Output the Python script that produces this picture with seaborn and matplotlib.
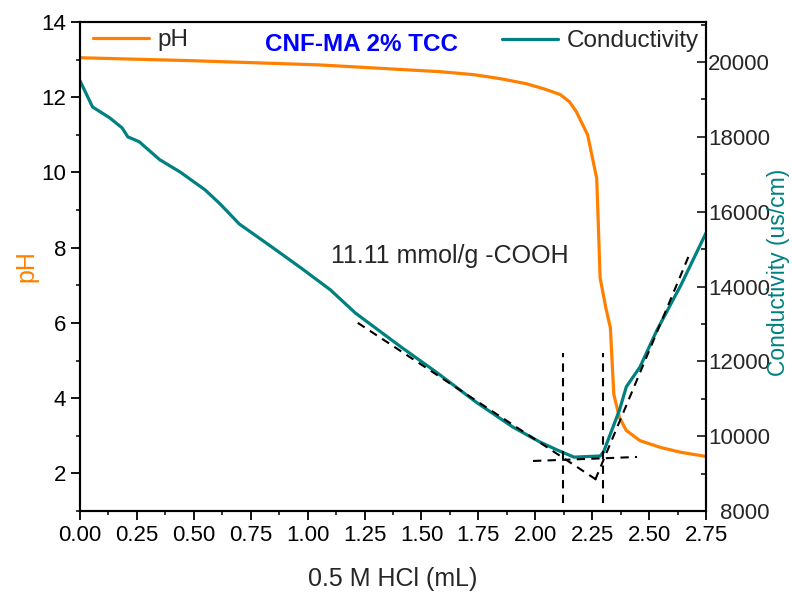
import matplotlib
matplotlib.use("Agg")
import matplotlib.pyplot as plt
from matplotlib.ticker import MultipleLocator, FormatStrFormatter
import numpy as np
import pandas as pd
import seaborn as sns

# Titration volume (mL of 0.5 M HCl) and pH reading
hcl_ph = [0.00, 0.50, 1.05, 1.58, 1.73, 1.85, 1.96, 2.04, 2.11, 2.15, 2.18, 2.21,
          2.23, 2.27, 2.285, 2.31, 2.33, 2.345, 2.37, 2.40, 2.46, 2.55, 2.64, 2.75]
ph = [13.05, 12.97, 12.86, 12.68, 12.60, 12.49, 12.36, 12.22, 12.07, 11.88, 11.62, 11.25,
      11.00, 9.84, 7.19, 6.40, 5.87, 4.10, 3.48, 3.14, 2.87, 2.69, 2.56, 2.45]

# Titration volume and conductivity (us/cm)
hcl_cond = [0.00, 0.055, 0.13, 0.185, 0.21, 0.26, 0.35, 0.44, 0.55, 0.615, 0.70,
            0.835, 0.97, 1.10, 1.21, 1.41, 1.57, 1.74, 1.90, 2.02, 2.10, 2.17,
            2.285, 2.30, 2.37, 2.40, 2.46, 2.535, 2.64, 2.75]
cond = [19500, 18800, 18510, 18240, 18000, 17870, 17390, 17060, 16580, 16210, 15670,
        15090, 14500, 13910, 13290, 12385, 11690, 10910, 10250, 9845, 9620, 9440,
        9470, 9580, 10700, 11320, 11850, 12840, 14040, 15430]

# Linear fits of the three conductivity regions
fit_acid_x = [1.22, 2.27]
fit_acid_y = [13030, 8830]
fit_flat_x = [1.99, 2.447]
fit_flat_y = [9337, 9444]
fit_excess_x = [2.263, 2.68]
fit_excess_y = [8830, 14900]

# Equivalence volumes
equiv_x = [2.122, 2.298]
equiv_y = [8210, 12220]

ORANGE = "#FF8000"
TEAL = "#008080"
BLUE = "#0000FF"

sns.set_style("ticks")
plt.rcParams["font.family"] = ["Liberation Sans", "DejaVu Sans"]

fig = plt.figure(figsize=(7.92, 5.94), dpi=100)
ax = fig.add_axes([80 / 792, 83 / 594, 626 / 792, 489 / 594])
ax2 = ax.twinx()

df_ph = pd.DataFrame({"HCl": hcl_ph, "pH": ph})
df_cond = pd.DataFrame({"HCl": hcl_cond, "Conductivity": cond})

sns.lineplot(data=df_ph, x="HCl", y="pH", ax=ax, color=ORANGE, lw=2.3,
             estimator=None, sort=False)
sns.lineplot(data=df_cond, x="HCl", y="Conductivity", ax=ax2, color=TEAL, lw=2.3,
             estimator=None, sort=False)

dash_kw = dict(color="black", lw=1.5, dashes=(4, 3))
ax2.plot(fit_acid_x, fit_acid_y, **dash_kw)
ax2.plot(fit_flat_x, fit_flat_y, **dash_kw)
ax2.plot(fit_excess_x, fit_excess_y, **dash_kw)
for xv in equiv_x:
    ax2.plot([xv, xv], equiv_y, **dash_kw)

ax.set_xlim(0, 2.75)
ax.set_ylim(1, 14)
ax2.set_ylim(8000, 21070)

ax.xaxis.set_major_locator(MultipleLocator(0.25))
ax.xaxis.set_minor_locator(MultipleLocator(0.125))
ax.xaxis.set_major_formatter(FormatStrFormatter("%.2f"))
ax.yaxis.set_major_locator(MultipleLocator(2))
ax.yaxis.set_minor_locator(MultipleLocator(1))
ax2.yaxis.set_major_locator(MultipleLocator(2000))
ax2.yaxis.set_minor_locator(MultipleLocator(1000))

ax.tick_params(axis="both", which="major", direction="out", length=6.5, width=1.3,
               labelsize=16, pad=3.5, colors="black")
ax.tick_params(axis="both", which="minor", direction="out", length=3.2, width=1.3)
ax.tick_params(axis="x", top=False, which="both")
ax2.tick_params(axis="y", which="major", direction="in", length=6.5, width=1.3,
                labelsize=16, pad=46)
ax2.tick_params(axis="y", which="minor", direction="in", length=3.5, width=1.3)
for lbl in ax2.get_yticklabels():
    lbl.set_horizontalalignment("right")

for a in (ax, ax2):
    for sp in a.spines.values():
        sp.set_linewidth(1.5)
        sp.set_color("black")

ax.set_xlabel("0.5 M HCl (mL)", fontsize=18, labelpad=15)
ax.set_ylabel("pH", fontsize=18, color=ORANGE, labelpad=2)
ax2.set_ylabel("Conductivity (us/cm)", fontsize=16.5, color=TEAL)
ax2.yaxis.set_label_coords((767 - 80) / 626, 0.487)

for a in (ax, ax2):
    if a.get_legend() is not None:
        a.get_legend().remove()

ph_line = ax.get_lines()[0]
cond_line = ax2.get_lines()[0]
leg_kw = dict(loc="center left", frameon=False, fontsize=17.5, handlelength=2.3,
              handletextpad=0.35, borderpad=0, borderaxespad=0)
leg1 = ax2.legend([ph_line], ["pH"], bbox_to_anchor=(0.0208, 0.963), **leg_kw)
ax2.add_artist(leg1)
ax2.legend([cond_line], ["Conductivity"], bbox_to_anchor=(0.674, 0.961), **leg_kw)

ax.text(0.449, 0.955, "CNF-MA 2% TCC", transform=ax.transAxes, ha="center",
        va="center", color=BLUE, fontweight="bold", fontsize=17.5)
ax.text(1.626, 7.77, "11.11 mmol/g -COOH", ha="center", va="center", fontsize=18)

fig.savefig("out.png", dpi=100)
